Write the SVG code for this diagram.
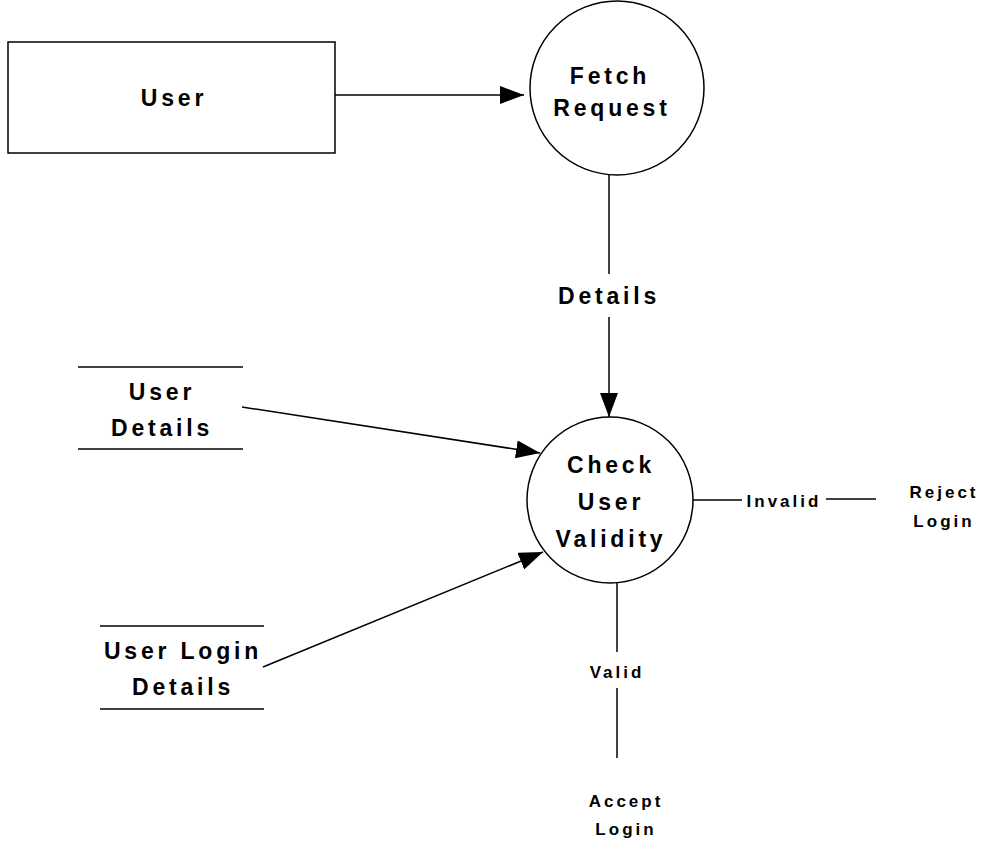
<svg xmlns="http://www.w3.org/2000/svg" width="997" height="845" viewBox="0 0 997 845">
<style>
.shape{fill:#fff;stroke:#000;stroke-width:1.5}
.line{fill:none;stroke:#000;stroke-width:1.5}
.arrow{fill:none;stroke:#000;stroke-width:1.5;marker-end:url(#ah)}
.big{font-family:"Liberation Sans",Arial,sans-serif;font-weight:bold;font-size:23px;letter-spacing:3.8px;text-anchor:middle;fill:#000}
.small{font-family:"Liberation Sans",Arial,sans-serif;font-weight:bold;font-size:17px;letter-spacing:3px;text-anchor:middle;fill:#000}
</style>
<defs>
<marker id="ah" markerUnits="userSpaceOnUse" markerWidth="24" markerHeight="18" refX="24" refY="9" orient="auto">
<path d="M0,0 L24,9 L0,18 z" fill="#000"/>
</marker>
</defs>
<g id="connectors">
<line class="arrow" x1="335" y1="95" x2="524" y2="95"/>
<line class="line" x1="609" y1="174" x2="609" y2="274"/>
<line class="arrow" x1="609" y1="317" x2="609" y2="417"/>
<line class="arrow" x1="242" y1="407" x2="540" y2="453"/>
<line class="arrow" x1="263" y1="667" x2="543" y2="552"/>
<line class="line" x1="692" y1="500" x2="742" y2="500"/>
<line class="line" x1="826" y1="499" x2="876" y2="499"/>
<line class="line" x1="617" y1="583" x2="617" y2="652"/>
<line class="line" x1="617" y1="688" x2="617" y2="758"/>
<text class="big" x="609" y="304">Details</text>
<text class="small" x="784" y="507">Invalid</text>
<text class="small" x="617" y="678">Valid</text>
</g>
<g id="user">
<rect class="shape" x="8" y="42" width="327" height="111"/>
<text class="big" x="174" y="106">User</text>
</g>
<g id="fetch-request">
<circle class="shape" cx="617" cy="88" r="87"/>
<text class="big" x="610" y="84">Fetch</text>
<text class="big" x="612" y="116">Request</text>
</g>
<g id="user-details">
<line class="line" x1="78" y1="367" x2="243" y2="367"/>
<line class="line" x1="78" y1="449" x2="243" y2="449"/>
<text class="big" x="162" y="400">User</text>
<text class="big" x="162" y="436">Details</text>
</g>
<g id="user-login-details">
<line class="line" x1="100" y1="626" x2="264" y2="626"/>
<line class="line" x1="100" y1="709" x2="264" y2="709"/>
<text class="big" x="183" y="659">User Login</text>
<text class="big" x="183" y="695">Details</text>
</g>
<g id="check-user-validity">
<circle class="shape" cx="610" cy="500" r="83"/>
<text class="big" x="611" y="473">Check</text>
<text class="big" x="611" y="510">User</text>
<text class="big" x="611" y="547">Validity</text>
</g>
<g id="reject-login">
<text class="small" x="944" y="498">Reject</text>
<text class="small" x="944" y="527">Login</text>
</g>
<g id="accept-login">
<text class="small" x="626" y="807">Accept</text>
<text class="small" x="626" y="835">Login</text>
</g>
</svg>
